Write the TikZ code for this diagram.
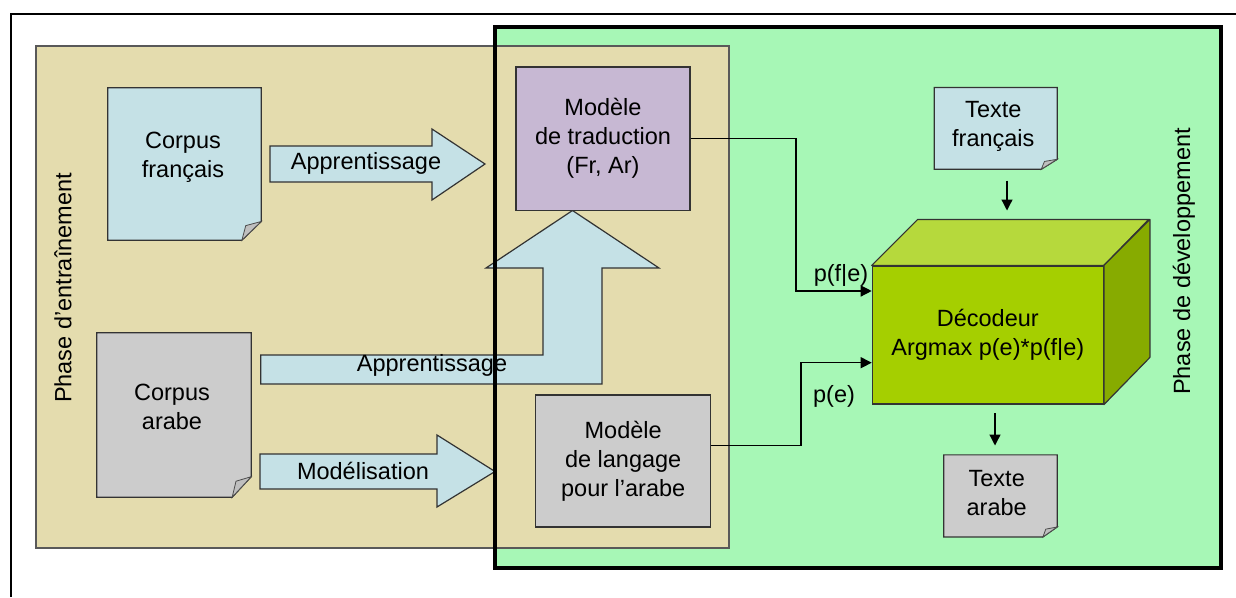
\documentclass[tikz,border=0pt]{standalone}
\usepackage{fontspec}
\setmainfont{Liberation Sans}
\usetikzlibrary{arrows.meta,calc}
\definecolor{beige}{HTML}{E4DCAE}
\definecolor{devgreen}{HTML}{A7F7B6}
\definecolor{lblue}{HTML}{C5E1E6}
\definecolor{lgrey}{HTML}{CCCCCC}
\definecolor{lpurple}{HTML}{C7B8D3}
\definecolor{decfront}{HTML}{A5CF00}
\definecolor{dectop}{HTML}{B6D93C}
\definecolor{decside}{HTML}{87AB00}
\pgfdeclarelayer{back}
\pgfdeclarelayer{mid}
\pgfdeclarelayer{front}
\pgfsetlayers{back,mid,main,front}
\tikzset{
  txt/.style={font=\fontsize{23.5}{29}\selectfont, align=center, inner sep=0pt},
  box/.style={draw=black!80, line width=1.2pt, inner sep=0pt},
  docnode/.style={inner sep=0pt, draw=none},
  conn/.style={draw=black, line width=1.3pt, -{Triangle[length=11pt,width=11pt]}},
  blk/.style={fill=lblue, draw=black!80, line width=1.2pt, line join=miter},
}
\newcommand\docshape[4]{%
  \begin{pgfonlayer}{mid}
  \filldraw[fill=#2, draw=black!80, line width=1.2pt]
    (#1.north west) -- (#1.north east) -- ([yshift=#4]#1.south east)
    -- ([xshift=-#3]#1.south east) -- (#1.south west) -- cycle;
  \filldraw[fill=gray!50, draw=black!70, line width=0.8pt]
    ([xshift=-#3]#1.south east) -- ([xshift=-0.8*#3, yshift=0.78*#4]#1.south east)
    -- ([yshift=#4]#1.south east) -- cycle;
  \end{pgfonlayer}}
\begin{document}
\begin{tikzpicture}[x=1pt,y=-1pt]
\useasboundingbox (0,0) rectangle (1236,597);

% containers
\begin{pgfonlayer}{back}
  \node[fill=devgreen, draw=none, minimum width=726pt, minimum height=541pt, inner sep=0pt] (dev) at (858,297.5) {};
  \node[fill=beige, draw=black!65, line width=1.2pt, minimum width=693pt, minimum height=502pt, inner sep=0pt] (train) at (382.5,297) {};
  \draw[line width=2pt] (11,597) -- (11,14) -- (1236,14);
\end{pgfonlayer}
\begin{pgfonlayer}{front}
  \draw[line width=3.5pt] (dev.north west) rectangle (dev.south east);
\end{pgfonlayer}

% phase labels
\node[txt, rotate=90] (pe) at (63,288) {Phase d’entraînement};
\node[txt, rotate=90] (pd) at (1184,261.5) {Phase de développement};

% documents
\node[docnode, minimum width=153pt, minimum height=152pt] (cf) at (184.5,164) {};
\docshape{cf}{lblue}{19.3pt}{18.7pt}
\node[txt] (cft) at (183,157) {Corpus\\français};

\node[docnode, minimum width=154pt, minimum height=164pt] (ca) at (174,415) {};
\docshape{ca}{lgrey}{19pt}{20.5pt}
\node[txt] (cat) at (172,407) {Corpus\\arabe};

\node[docnode, minimum width=122.7pt, minimum height=81.3pt] (tf) at (995.7,128.4) {};
\docshape{tf}{lblue}{16pt}{10pt}
\node[txt] (tft) at (993.3,126) {Texte\\français};

\node[docnode, minimum width=113pt, minimum height=81.7pt] (ta) at (1000.5,495.9) {};
\docshape{ta}{lgrey}{14.3pt}{10pt}
\node[txt] (tat) at (996.7,493) {Texte\\arabe};

% models
\node[box, fill=lpurple, txt, draw=black!80, line width=1.2pt, minimum width=174pt, minimum height=143.3pt] (mt) at (603,138.65) {Modèle\\de traduction\\(Fr, Ar)};
\node[box, fill=lgrey, txt, draw=black!80, line width=1.2pt, minimum width=175pt, minimum height=132pt] (lm) at (623.2,461) {Modèle\\de langage\\pour l’arabe};

% block arrows
\begin{pgfonlayer}{mid}
  \draw[blk] (270,146) -- (432,146) -- (432,129) -- (485,164) -- (432,200) -- (432,182) -- (270,182) -- cycle;
  \draw[blk] (260,454) -- (437,454) -- (437,435) -- (495,471.5) -- (437,507) -- (437,489) -- (260,489) -- cycle;
  \draw[blk] (260.7,355) -- (543,355) -- (543,268) -- (486,268) -- (572.5,210.5) -- (659,268) -- (602,268) -- (602,384) -- (260.7,384) -- cycle;
\end{pgfonlayer}
\node[txt] (a1) at (366,163) {Apprentissage};
\node[txt] (a2) at (432,365) {Apprentissage};
\node[txt] (a3) at (363,471) {Modélisation};

% decoder
\node[box, fill=decfront, txt, draw=black!80, line width=1.2pt, minimum width=231pt, minimum height=138pt] (dec) at (987.8,335) {Décodeur\\Argmax p(e)*p(f|e)};
\filldraw[fill=dectop, draw=black!80, line width=1.2pt, line join=round]
  (dec.north west) -- ++(46,-46) -- ++(231,0) -- (dec.north east) -- cycle;
\filldraw[fill=decside, draw=black!80, line width=1.2pt, line join=round]
  (dec.north east) -- ++(46,-46) -- ++(0,138) -- (dec.south east) -- cycle;

% connectors
\draw[conn] (mt.east) -| (796,291) -- (dec.west |- 0,291);
\draw[conn] ([yshift=15.3pt]lm.east) -| (801,362.7) -- (dec.west |- 0,362.7);
\node[txt] (pfe) at (841,275) {p(f|e)};
\node[txt] (pe2) at (834,396) {p(e)};

\coordinate (tfa) at (1007,180.7);
\coordinate (deca) at (1007,210.5);
\draw[conn] (tfa) -- (deca);
\coordinate (decb) at (995,413);
\coordinate (taa) at (995,445.5);
\draw[conn] (decb) -- (taa);
\end{tikzpicture}
\end{document}
